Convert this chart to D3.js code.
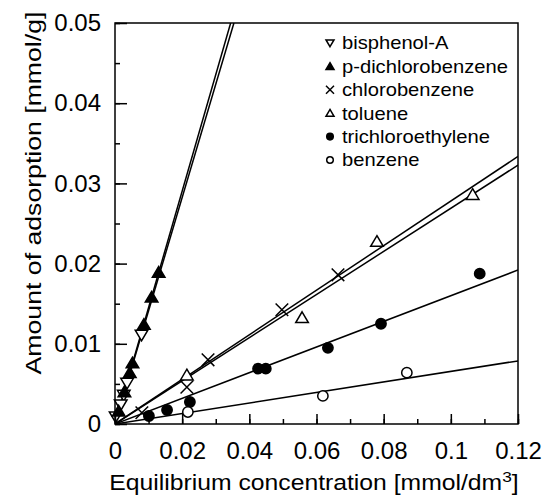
<!DOCTYPE html>
<html>
<head>
<meta charset="utf-8">
<script src="https://cdn.jsdelivr.net/npm/d3@7"></script>
<style>
  body { margin: 0; background: #fff; }
  svg { display: block; font-family: "Liberation Sans", Arial, sans-serif; }
  .axis text { font-size: 24px; fill: #000; }
  .axis-label { font-size: 21.5px; fill: #000; }
  .legend text { font-size: 18px; fill: #000; }
</style>
</head>
<body>
<svg id="chart" width="550" height="496"></svg>
<script>
// Equilibrium concentration [mmol/dm3] vs amount adsorbed [mmol/g]
const bpaX = [0.0079, 0.0036, 0.0026, 0.0017, 0.0002];
const bpaY = [0.0111, 0.0051, 0.0036, 0.0024, 0.0009];

const pdcbX = [0.0130, 0.0109, 0.0086, 0.0052, 0.0044, 0.0028, 0.0011];
const pdcbY = [0.0189, 0.0158, 0.0124, 0.0076, 0.0064, 0.0040, 0.0016];

const cbX = [0.0664, 0.0497, 0.0277, 0.0214, 0.0080];
const cbY = [0.0186, 0.01425, 0.0080, 0.0046, 0.0014];

const tolX = [0.1065, 0.0780, 0.0557, 0.0214];
const tolY = [0.0286, 0.02275, 0.01325, 0.0061];

const tceX = [0.1086, 0.0792, 0.0634, 0.0449, 0.0426, 0.0223, 0.0155, 0.0101];
const tceY = [0.01875, 0.0125, 0.0095, 0.0069, 0.0069, 0.00275, 0.00175, 0.0010];

const bzX = [0.0869, 0.0619, 0.0217];
const bzY = [0.0064, 0.0035, 0.0015];

// fitted slopes of the lines through the origin
const series = [
    { name: "bisphenol-A",        xs: bpaX,  ys: bpaY,  slope: 1.412, mark: "tdown" },
    { name: "p-dichlorobenzene",  xs: pdcbX, ys: pdcbY, slope: 1.452, mark: "tfill" },
    { name: "chlorobenzene",      xs: cbX,   ys: cbY,   slope: 0.278, mark: "x" },
    { name: "toluene",            xs: tolX,  ys: tolY,  slope: 0.269, mark: "tup" },
    { name: "trichloroethylene",  xs: tceX,  ys: tceY,  slope: 0.160, mark: "dot" },
    { name: "benzene",            xs: bzX,   ys: bzY,   slope: 0.0656, mark: "ring" },
];

const xTicks = [0, 0.02, 0.04, 0.06, 0.08, 0.1, 0.12];
const yTicks = [0, 0.01, 0.02, 0.03, 0.04, 0.05];

const margin = { top: 23, right: 32, bottom: 72, left: 115 };
const width = 550, height = 496;
const innerW = width - margin.left - margin.right;
const innerH = height - margin.top - margin.bottom;

const svg = d3.select("#chart");
const g = svg.append("g").attr("transform", `translate(${margin.left},${margin.top})`);

const x = d3.scaleLinear().domain([0, 0.12]).range([0, innerW]);
const y = d3.scaleLinear().domain([0, 0.05]).range([innerH, 0]);

g.append("clipPath").attr("id", "clip")
    .append("rect").attr("width", innerW).attr("height", innerH);

// fit lines
const lineGen = d3.line().x(d => x(d[0])).y(d => y(d[1]));
const lines = g.append("g").attr("clip-path", "url(#clip)");
for (const s of series) {
    const xEnd = Math.min(0.12, 0.05 / s.slope);
    lines.append("path")
        .datum([[0, 0], [xEnd, xEnd * s.slope]])
        .attr("d", lineGen)
        .attr("fill", "none")
        .attr("stroke", "#000")
        .attr("stroke-width", 1.5);
}

function marker(sel, kind, r) {
    const h = r * 1.7;
    if (kind === "tup" || kind === "tfill") {
        sel.append("path")
            .attr("d", `M0,${-h * 0.55}L${r},${h * 0.45}L${-r},${h * 0.45}Z`)
            .attr("fill", kind === "tfill" ? "#000" : "#fff")
            .attr("stroke", "#000").attr("stroke-width", 1.5);
    } else if (kind === "tdown") {
        sel.append("path")
            .attr("d", `M0,${h * 0.55}L${r},${-h * 0.45}L${-r},${-h * 0.45}Z`)
            .attr("fill", "#fff")
            .attr("stroke", "#000").attr("stroke-width", 1.5);
    } else if (kind === "x") {
        sel.append("path")
            .attr("d", `M${-r},${-r}L${r},${r}M${-r},${r}L${r},${-r}`)
            .attr("stroke", "#000").attr("stroke-width", 1.5);
    } else {
        sel.append("circle")
            .attr("r", r * 0.82)
            .attr("fill", kind === "dot" ? "#000" : "#fff")
            .attr("stroke", "#000").attr("stroke-width", 1.5);
    }
}

// points
const pts = g.append("g");
for (const s of series) {
    s.xs.forEach((xv, i) => {
        const m = pts.append("g")
            .attr("transform", `translate(${x(xv)},${y(s.ys[i])})`);
        marker(m, s.mark, 6.3);
    });
}

// frame
g.append("rect")
    .attr("width", innerW).attr("height", innerH)
    .attr("fill", "none").attr("stroke", "#000").attr("stroke-width", 1.5);

// axes with inward ticks
g.append("g").attr("class", "axis")
    .attr("transform", `translate(0,${innerH})`)
    .call(d3.axisBottom(x).tickValues(d3.range(0, 0.1201, 0.01)).tickSize(-5).tickFormat(""))
    .call(a => a.select(".domain").remove());
g.append("g").attr("class", "axis")
    .attr("transform", `translate(0,${innerH})`)
    .call(d3.axisBottom(x).tickValues(xTicks).tickSize(-10).tickPadding(18)
        .tickFormat(d => d === 0 ? "0" : String(+d.toFixed(2))))
    .call(a => a.select(".domain").remove());

g.append("g").attr("class", "axis")
    .call(d3.axisLeft(y).tickValues(d3.range(0, 0.0501, 0.005)).tickSize(-5).tickFormat(""))
    .call(a => a.select(".domain").remove());
g.append("g").attr("class", "axis")
    .call(d3.axisLeft(y).tickValues(yTicks).tickSize(-12).tickPadding(14)
        .tickFormat(d => d === 0 ? "0" : String(+d.toFixed(2))))
    .call(a => a.select(".domain").remove());

g.selectAll(".axis .tick line").attr("stroke", "#000").attr("stroke-width", 1.5);

// axis labels (glyphs in the original are wider than Arial, hence the x-scale)
const xl = svg.append("text").attr("class", "axis-label")
    .attr("transform", "translate(314,490) scale(1.15,1)")
    .attr("text-anchor", "middle");
xl.append("tspan").text("Equilibrium concentration [mmol/dm");
xl.append("tspan").attr("dy", -8).attr("font-size", 15).text("3");
xl.append("tspan").attr("dy", 8).text("]");

svg.append("text").attr("class", "axis-label")
    .attr("transform", "translate(41,193) rotate(-90) scale(1.24,1)")
    .attr("text-anchor", "middle")
    .text("Amount of adsorption [mmol/g]");

// legend
const legend = svg.append("g").attr("class", "legend")
    .attr("transform", "translate(330,43)");
series.forEach((s, i) => {
    const row = legend.append("g").attr("transform", `translate(0,${i * 23.4})`);
    marker(row, s.mark, 4);
    row.append("text")
        .attr("transform", "translate(12,0) scale(1.12,1)")
        .attr("dy", "0.35em").text(s.name);
});
</script>
</body>
</html>
